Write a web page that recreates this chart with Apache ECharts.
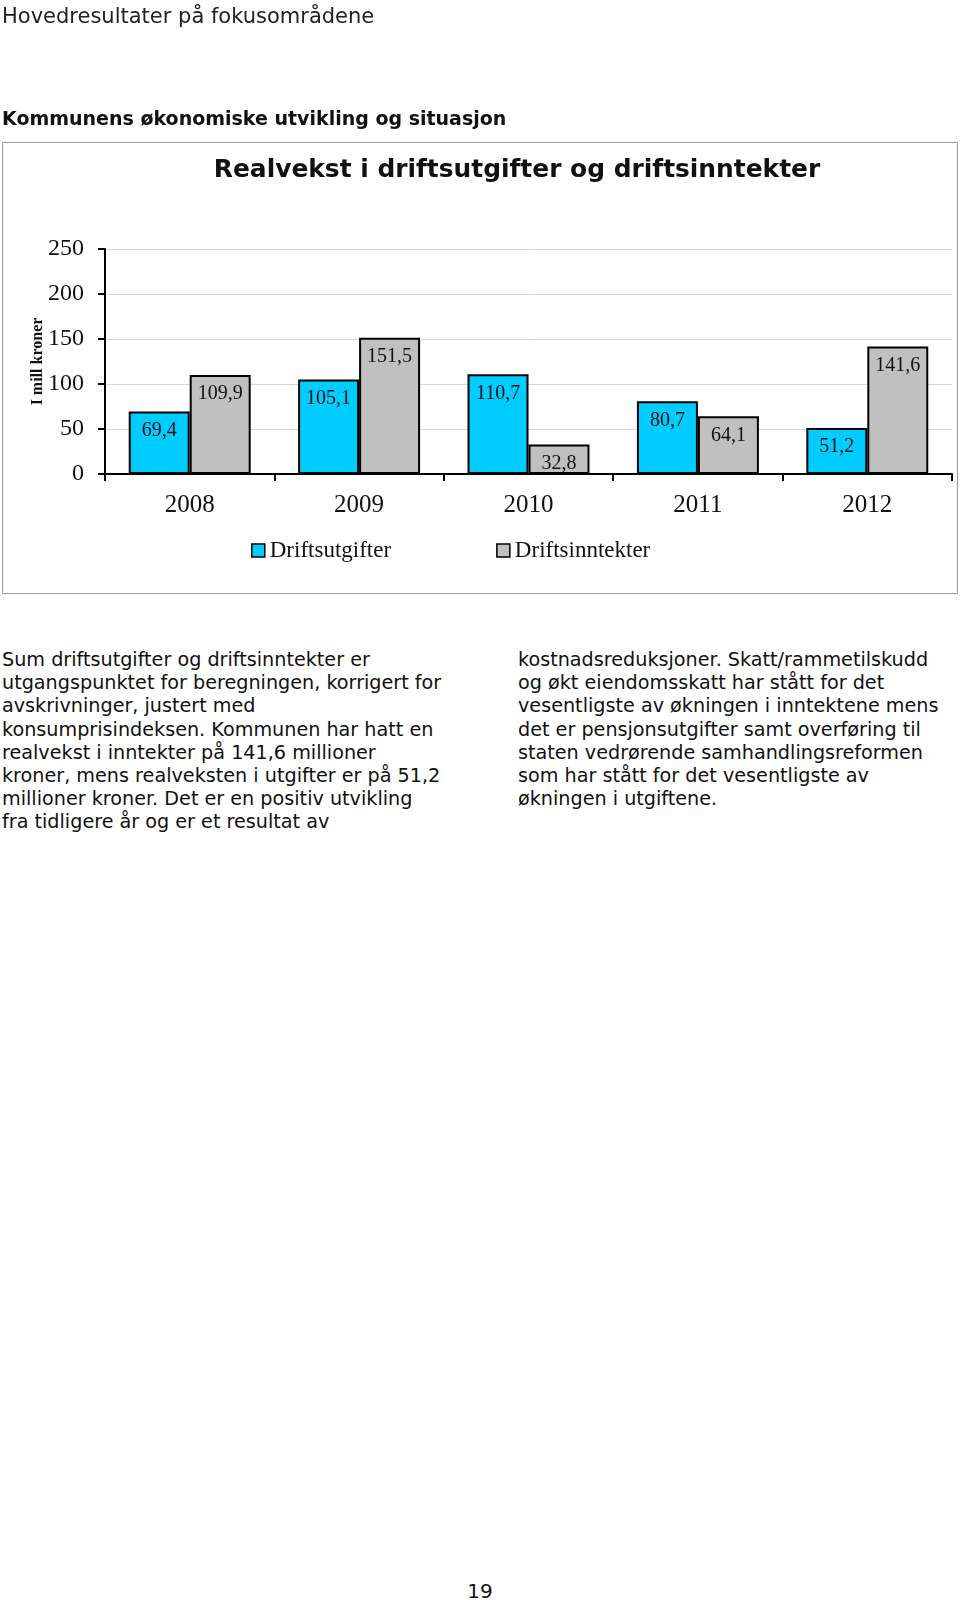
<!DOCTYPE html>
<html>
<head>
<meta charset="utf-8">
<script src="https://cdn.jsdelivr.net/npm/echarts@6/dist/echarts.min.js"></script>
<style>
  html, body { margin: 0; padding: 0; background: #fff; }
  body { width: 960px; height: 1600px; position: relative; overflow: hidden; font-family: "DejaVu Sans", Verdana, sans-serif; color: #111; }
  .abs { position: absolute; white-space: nowrap; }
  #hdr { left: 2px; top: 3px; font-size: 21px; line-height: 26px; color: #222; }
  #sec { left: 2px; top: 106px; font-size: 19px; line-height: 24px; font-weight: bold; }
  .col { font-size: 19.2px; line-height: 23.2px; top: 648px; }
  #colL { left: 2px; }
  #colR { left: 518px; }
  #pg { left: 0; width: 960px; text-align: center; top: 1578px; font-size: 20px; line-height: 26px; }
  #chart { position: absolute; left: 0; top: 0; width: 960px; height: 600px; }
</style>
</head>
<body>
<div id="chart"></div>
<div class="abs" id="hdr">Hovedresultater på fokusområdene</div>
<div class="abs" id="sec">Kommunens økonomiske utvikling og situasjon</div>
<div class="abs col" id="colL">Sum driftsutgifter og driftsinntekter er<br>utgangspunktet for beregningen, korrigert for<br>avskrivninger, justert med<br>konsumprisindeksen. Kommunen har hatt en<br>realvekst i inntekter på 141,6 millioner<br>kroner, mens realveksten i utgifter er på 51,2<br>millioner kroner. Det er en positiv utvikling<br>fra tidligere år og er et resultat av</div>
<div class="abs col" id="colR">kostnadsreduksjoner. Skatt/rammetilskudd<br>og økt eiendomsskatt har stått for det<br>vesentligste av økningen i inntektene mens<br>det er pensjonsutgifter samt overføring til<br>staten vedrørende samhandlingsreformen<br>som har stått for det vesentligste av<br>økningen i utgiftene.</div>
<div class="abs" id="pg">19</div>
<script>
var years = ['2008', '2009', '2010', '2011', '2012'];
var driftsutgifter = [69.4, 105.1, 110.7, 80.7, 51.2];
var driftsinntekter = [109.9, 151.5, 32.8, 64.1, 141.6];
var seriesNames = ['Driftsutgifter', 'Driftsinntekter'];
var chartTitle = 'Realvekst i driftsutgifter og driftsinntekter';
var yAxisName = 'I mill kroner';

var serif = '"Liberation Serif", "Times New Roman", serif';
function fmt(p) { return p.value.toFixed(1).replace('.', ','); }

var chart = echarts.init(document.getElementById('chart'), null, { renderer: 'canvas' });
chart.setOption({
  animation: false,
  textStyle: { fontFamily: serif },
  graphic: [
    { type: 'rect', shape: { x: 2.5, y: 142.5, width: 955, height: 451 },
      style: { fill: 'none', stroke: '#9a9a9a', lineWidth: 1 }, silent: true },
    { type: 'text', x: 517, y: 171,
      style: { text: chartTitle, textAlign: 'center', textVerticalAlign: 'middle',
               font: 'bold 24.9px "DejaVu Sans", Verdana, sans-serif', fill: '#111' } }
  ],
  grid: { left: 105, top: 249, width: 847, height: 225, containLabel: false },
  legend: {
    left: 246, top: 534,
    itemWidth: 13, itemHeight: 13, itemGap: 105,
    icon: 'rect',
    textStyle: { fontFamily: serif, fontSize: 23, color: '#111' },
    itemStyle: { borderColor: '#000', borderWidth: 1.5 },
    data: seriesNames
  },
  xAxis: {
    type: 'category',
    data: years,
    boundaryGap: true,
    axisLine: { show: true, lineStyle: { color: '#000', width: 2 } },
    axisTick: { show: true, alignWithLabel: false, length: 7, inside: false, lineStyle: { color: '#000', width: 2 } },
    axisLabel: { fontFamily: serif, fontSize: 25, color: '#111', margin: 19 },
    splitLine: { show: false }
  },
  yAxis: {
    type: 'value',
    min: 0, max: 250, interval: 50,
    name: yAxisName,
    nameLocation: 'middle',
    nameGap: 59,
    nameMoveOverlap: false,
    nameTextStyle: { fontFamily: serif, fontSize: 16, fontWeight: 'bold', color: '#111' },
    axisLine: { show: true, lineStyle: { color: '#000', width: 2 } },
    axisTick: { show: true, length: 7, inside: false, lineStyle: { color: '#000', width: 2 } },
    axisLabel: { fontFamily: serif, fontSize: 24, color: '#111', margin: 21 },
    splitLine: { show: true, lineStyle: { color: '#d9d9d9', width: 1 } }
  },
  series: [
    {
      name: seriesNames[0], type: 'bar', data: driftsutgifter,
      barGap: '0%', barCategoryGap: '28%',
      itemStyle: { color: '#00CCFF', borderColor: '#000', borderWidth: 2 },
      label: { show: true, position: 'insideTop', distance: 9, formatter: fmt,
               fontFamily: serif, fontSize: 20, color: '#111' }
    },
    {
      name: seriesNames[1], type: 'bar', data: driftsinntekter,
      barGap: '0%', barCategoryGap: '28%',
      itemStyle: { color: '#C0C0C0', borderColor: '#000', borderWidth: 2 },
      label: { show: true, position: 'insideTop', distance: 9, formatter: fmt,
               fontFamily: serif, fontSize: 20, color: '#111' }
    }
  ]
});
</script>
</body>
</html>
